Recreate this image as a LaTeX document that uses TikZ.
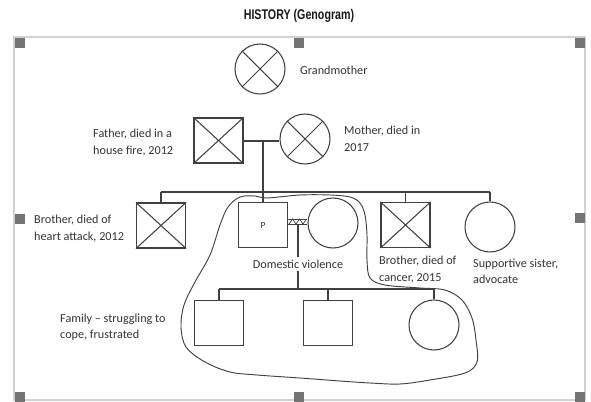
\documentclass[tikz,border=0pt]{standalone}
\usepackage{fontspec}
\setmainfont{Carlito}
\newfontfamily\titlefont[FakeStretch=0.76]{Liberation Sans}
\begin{document}
\begin{tikzpicture}[x=0.03cm,y=-0.03cm,
  ln/.style={draw=black!75, line width=0.9pt},
  male/.style={ln, rectangle, minimum width=1.47cm, minimum height=1.35cm, inner sep=0pt},
  female/.style={ln, circle, minimum size=1.5cm, inner sep=0pt},
  lbl/.style={align=left, inner sep=0pt, anchor=west, text=black!80, font=\fontsize{10.4}{14}\selectfont},
  handle/.style={fill=black!55, draw=none, minimum size=0.3cm, inner sep=0pt},
  dead/.style={ln, shorten <=0pt}]
\useasboundingbox (0,0) rectangle (591,402);
% frame
\draw[black!18, line width=1.5pt] (14,37) rectangle (585,400);
\node[handle] (h1) at (20,43) {};
\node[handle] (h2) at (299,43) {};
\node[handle] (h3) at (579.5,43) {};
\node[handle] (h4) at (20,219) {};
\node[handle] (h5) at (579.5,218) {};
\node[handle] (h6) at (20,397) {};
\node[handle] (h7) at (299,397) {};
\node[handle] (h8) at (579.5,397) {};
% title
\node[text=black!90] (title) at (299,16) {\titlefont\bfseries\fontsize{12}{14}\selectfont HISTORY (Genogram)};
% people
\node[female] (gm) at (260,69) {};
\node[male] (father) at (218.5,140.5) {};
\node[female] (mother) at (305,139) {};
\node[male] (b1) at (161,225.5) {};
\node[male, font=\fontsize{8}{9}\selectfont, text=black!80] (p) at (263,225) {P};
\node[female] (wife) at (333,223) {};
\node[male] (b3) at (405.5,225) {};
\node[female] (sis) at (490,227) {};
\node[male] (c1) at (219,323) {};
\node[male] (c2) at (328,323) {};
\node[female] (c3) at (434,325) {};
% crosses
\foreach \n in {gm,father,mother,b1,b3}{
  \draw[ln] (\n.north west) -- (\n.south east);
  \draw[ln] (\n.north east) -- (\n.south west);
}
% labels
\node[lbl] (lgm) at (300,70) {Grandmother};
\node[lbl] (lfa) at (93,142.5) {Father, died in a\\house fire, 2012};
\node[lbl] (lmo) at (344,139) {Mother, died in\\2017};
\node[lbl] (lb1) at (34,228.5) {Brother, died of\\heart attack, 2012};
\node[lbl] (lb3) at (379,269.5) {Brother, died of\\cancer, 2015};
\node[lbl] (lsis) at (473,271.5) {Supportive sister,\\advocate};
\node[lbl] (lfam) at (60,327) {Family -- struggling to\\cope, frustrated};
% connectors parents
\coordinate (fm) at (263,141);
\coordinate (sib) at (263,192);
\draw[ln] (father.east |- fm) -- (mother.west |- fm);
\draw[ln] (fm) -- (sib);
\draw[ln] (b1.north |- sib) -- (sis.north |- sib);
\draw[ln] (b1.north |- sib) -- (b1.north);
\draw[ln] (sib) -- (p.north);
\draw[ln] (b3.north |- sib) -- (b3.north);
\draw[ln] (sis.north |- sib) -- (sis.north);
% violent marriage
\coordinate (vt) at (298,219);
\coordinate (vb) at (298,224);
\draw[ln, line width=0.7pt] (p.east |- vt) -- (wife.west |- vt);
\draw[ln, line width=0.7pt] (p.east |- vb) -- (wife.west |- vb);
\draw[ln, line width=0.6pt] (289,224) -- (292.5,219) -- (296,224) -- (299.5,219) -- (303,224) -- (306.5,219);
\coordinate (kids) at (298,289);
\draw[ln] (vb) -- (kids);
\node[lbl, anchor=center, fill=white, inner sep=2pt] (dv) at (298,264) {Domestic violence};
\draw[ln] (c1.north |- kids) -- (c3.north |- kids);
\draw[ln] (c1.north |- kids) -- (c1.north);
\draw[ln] (c2.north |- kids) -- (c2.north);
\draw[ln] (c3.north |- kids) -- (c3.north);
% hand-drawn enclosure
\draw[black!75, line width=0.8pt] plot[smooth cycle, tension=0.55] coordinates {
 (240,197) (255,196) (267,198) (300,195) (330,195) (350,197) (360,203) (365,215)
 (367,235) (367,260) (370,278) (385,285) (420,288) (445,290) (462,300) (472,318)
 (476,340) (477,362) (465,373) (430,380) (400,384) (370,383) (340,381) (300,378)
 (257,375) (230,372) (205,362) (186,347) (181,327) (184,305) (195,282) (210,255)
 (220,225) (228,207)};
\end{tikzpicture}
\end{document}
